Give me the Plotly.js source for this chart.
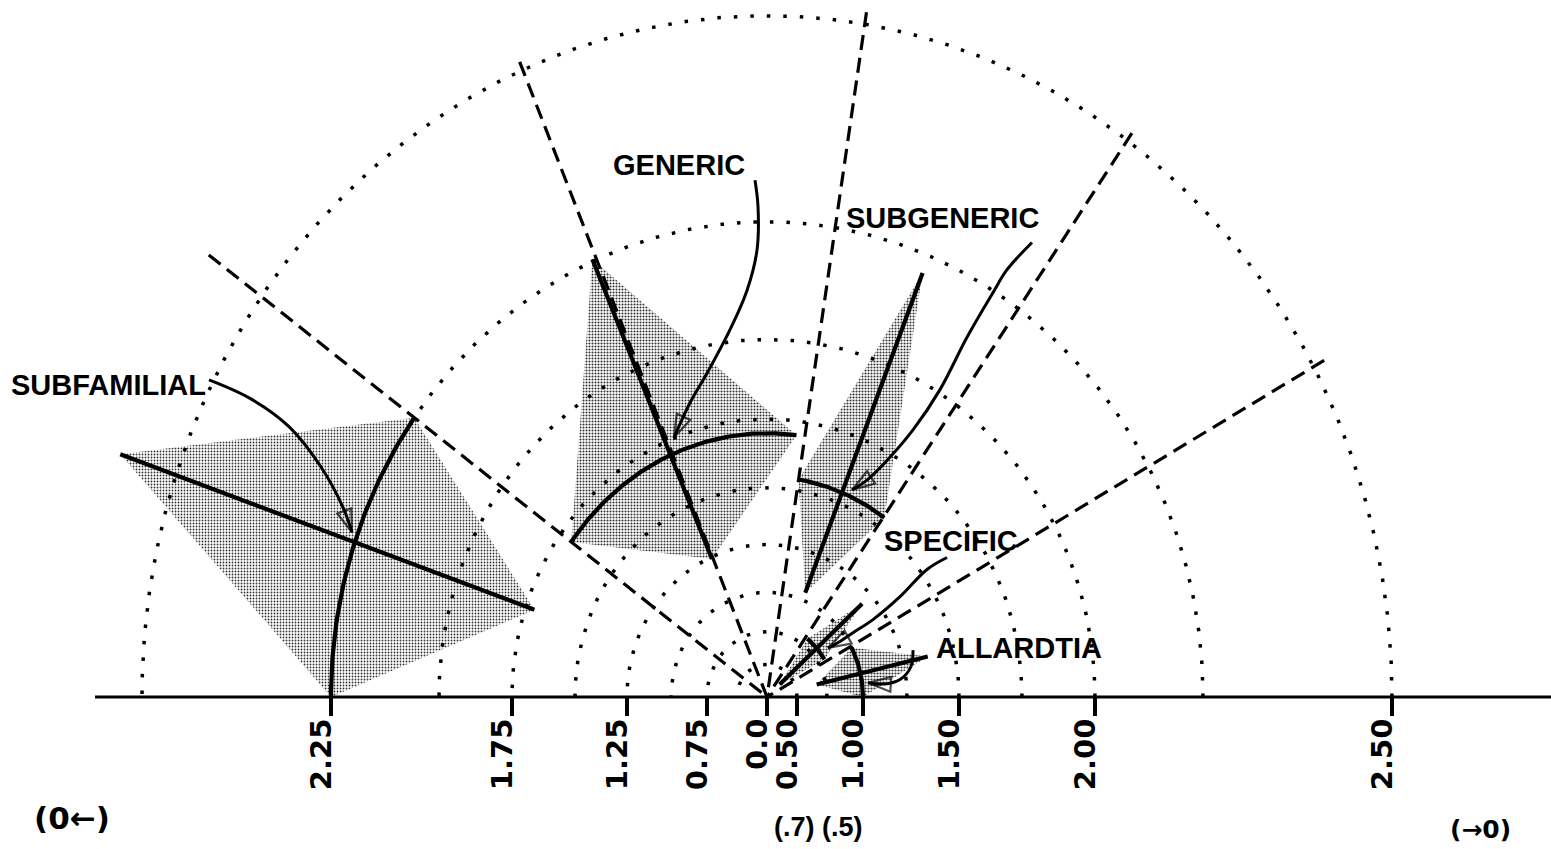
<!DOCTYPE html>
<html><head><meta charset="utf-8">
<script src="https://cdn.plot.ly/plotly-3.0.1.min.js"></script>
<style>html,body{margin:0;padding:0;background:#fff;overflow:hidden}</style>
</head><body><div id="chart" style="width:1551px;height:849px"></div>
<script>
// ---- Data (diagram units: distance from the common origin) ----
const circleLabels = ['0.50','0.75','1.00','1.25','1.50','1.75','2.00','2.25','2.50'];
const circleRadii  = [30, 60, 96, 140, 192, 255, 328, 436, 625];
const labelSide    = [1, -1, 1, -1, 1, -1, 1, -1, 1];
const originLabel  = '0.0';

const rayAngles  = [144.0, 113.0, 81.0, 54.8, 29.0];
const rayLengths = [690, 633, 636, 633, 637];

const groups       = ['SUBFAMILIAL', 'GENERIC', 'SUBGENERIC', 'SPECIFIC', 'ALLARDTIA'];
const radialAngle  = [161, 113.5, 68.2, 42, 13];
const radialInner  = [246, 138, 103, 17, 51];
const radialOuter  = [684, 438, 419, 128, 165];
const arcRadius    = [436, 242, 202, 67, 96];
const arcStart     = [144, 83, 54.5, 31, 0];
const arcEnd       = [180, 144, 81, 53, 28];
const shadeSolidity = [0.3, 0.37, 0.38, 0.38, 0.42];

const labelX = [-659, -88, 175, 184, 252];
const labelY = [286, 488, 439, 143, 45];
const leaderX = [
  [-558, -517, -478, -446, -424, -415],
  [-12, -9, -10, -20, -37, -60, -77, -93],
  [265, 240, 226, 200, 173, 146, 120, 100, 85],
  [180, 160, 133, 106, 86, 73, 61],
  [146, 144, 133, 118, 101]
];
const leaderY = [
  [291, 274, 248, 211, 174, 151],
  [474, 450, 410, 373, 337, 297, 270, 238],
  [417, 392, 371, 330, 282, 245, 217, 199, 190],
  [128, 117, 92, 71, 59, 51, 45],
  [43, 28, 16, 12, 13]
];

const noteText = ['(0\u2190)', '(.7) (.5)', '(\u21920)'];
const noteX = [-695, 51, 713];
const noteY = [-111, -119, -122];
const noteSize = [31, 27, 25];

const baselineFrom = -672, baselineTo = 784;

// ---- helpers ----
const rad = d => d * Math.PI / 180;
const px = (r, a) => r * Math.cos(rad(a));
const py = (r, a) => r * Math.sin(rad(a));
function arcPts(r, a0, a1, step) {
  const xs = [], ys = [];
  const n = Math.max(2, Math.ceil(Math.abs(a1 - a0) / step));
  for (let i = 0; i <= n; i++) { const a = a0 + (a1 - a0) * i / n; xs.push(px(r, a)); ys.push(py(r, a)); }
  return {x: xs, y: ys};
}

const traces = [];
// shaded regions
groups.forEach((g, i) => {
  const vx = [px(radialOuter[i], radialAngle[i]), px(arcRadius[i], arcStart[i]),
              px(radialInner[i], radialAngle[i]), px(arcRadius[i], arcEnd[i])];
  const vy = [py(radialOuter[i], radialAngle[i]), py(arcRadius[i], arcStart[i]),
              py(radialInner[i], radialAngle[i]), py(arcRadius[i], arcEnd[i])];
  traces.push({type: 'scatter', mode: 'lines', x: vx.concat([vx[0]]), y: vy.concat([vy[0]]),
    fill: 'toself', fillcolor: 'rgba(255,255,255,0)', line: {width: 0, color: 'rgba(0,0,0,0)'},
    fillpattern: {shape: '.', size: 3, solidity: shadeSolidity[i], fgcolor: '#333', bgcolor: 'rgba(255,255,255,0)'},
    hoverinfo: 'skip'});
});
// dotted semicircles
circleRadii.forEach(r => {
  const p = arcPts(r, 0, 180, 0.5);
  traces.push({type: 'scatter', mode: 'lines', x: p.x, y: p.y,
    line: {color: '#000', width: 3.5, dash: '3.5px,13px'}, hoverinfo: 'skip'});
});
// dashed rays
rayAngles.forEach((a, i) => {
  traces.push({type: 'scatter', mode: 'lines', x: [px(rayLengths[i], a), 0], y: [py(rayLengths[i], a), 0],
    line: {color: '#000', width: 3.2, dash: '15px,8px'}, hoverinfo: 'skip'});
});
// baseline
traces.push({type: 'scatter', mode: 'lines', x: [baselineFrom, baselineTo], y: [0, 0],
  line: {color: '#000', width: 3}, hoverinfo: 'skip'});
// radial segments + arcs
groups.forEach((g, i) => {
  traces.push({type: 'scatter', mode: 'lines',
    x: [px(radialInner[i], radialAngle[i]), px(radialOuter[i], radialAngle[i])],
    y: [py(radialInner[i], radialAngle[i]), py(radialOuter[i], radialAngle[i])],
    line: {color: '#000', width: 4.2}, hoverinfo: 'skip'});
  const p = arcPts(arcRadius[i], arcStart[i], arcEnd[i], 0.5);
  traces.push({type: 'scatter', mode: 'lines', x: p.x, y: p.y,
    line: {color: '#000', width: 4.2}, hoverinfo: 'skip'});
});
// leader arrows
groups.forEach((g, i) => {
  const n = leaderX[i].length;
  traces.push({type: 'scatter', mode: 'lines+markers', x: leaderX[i], y: leaderY[i],
    line: {color: '#000', width: 3, shape: 'spline', smoothing: 1},
    marker: {symbol: leaderX[i].map((v, k) => k === n - 1 ? 'arrow-open' : 'circle'),
             size: leaderX[i].map((v, k) => k === n - 1 ? 24 : 0),
             angleref: 'previous', color: '#000', line: {color: '#000', width: 2.2}},
    hoverinfo: 'skip'});
});

const annotations = [];
groups.forEach((g, i) => {
  annotations.push({x: labelX[i], y: labelY[i], xref: 'x', yref: 'y', text: g, showarrow: false,
    font: {family: 'Liberation Sans, Arial, sans-serif', size: 29, weight: 'bold', color: '#000'}});
});
noteText.forEach((t, i) => {
  annotations.push({x: noteX[i], y: noteY[i], xref: 'x', yref: 'y', text: t, showarrow: false,
    font: {family: i === 1 ? 'Liberation Sans, sans-serif' : 'DejaVu Sans, sans-serif', size: noteSize[i], weight: 'bold', color: '#000'}});
});

const W = 1551, H = 849, yTop = 697 / 1.09, yBot = -(849 - 697) / 1.09;
const tickvals = [0].concat(circleRadii.map((r, i) => r * labelSide[i]));
const ticktext = [originLabel].concat(circleLabels);

const layout = {
  width: W, height: H, margin: {l: 0, r: 0, t: 0, b: 0},
  paper_bgcolor: '#fff', plot_bgcolor: '#fff', showlegend: false,
  xaxis: {range: [-767, 784], anchor: 'free', position: -yBot / (yTop - yBot),
    showgrid: false, zeroline: false, showline: false,
    ticks: 'outside', ticklen: 18, tickwidth: 3.5, tickcolor: '#000',
    tickmode: 'array', tickvals: tickvals, ticktext: ticktext, tickangle: -90,
    ticklabelshift: -9, ticklabelstandoff: -9,
    tickfont: {family: 'DejaVu Sans, sans-serif', size: 29, weight: 'bold', color: '#000'}},
  yaxis: {range: [yBot, yTop], visible: false, showgrid: false, zeroline: false},
  annotations: annotations
};
Plotly.newPlot('chart', traces, layout, {staticPlot: true, displayModeBar: false});
</script></body></html>
